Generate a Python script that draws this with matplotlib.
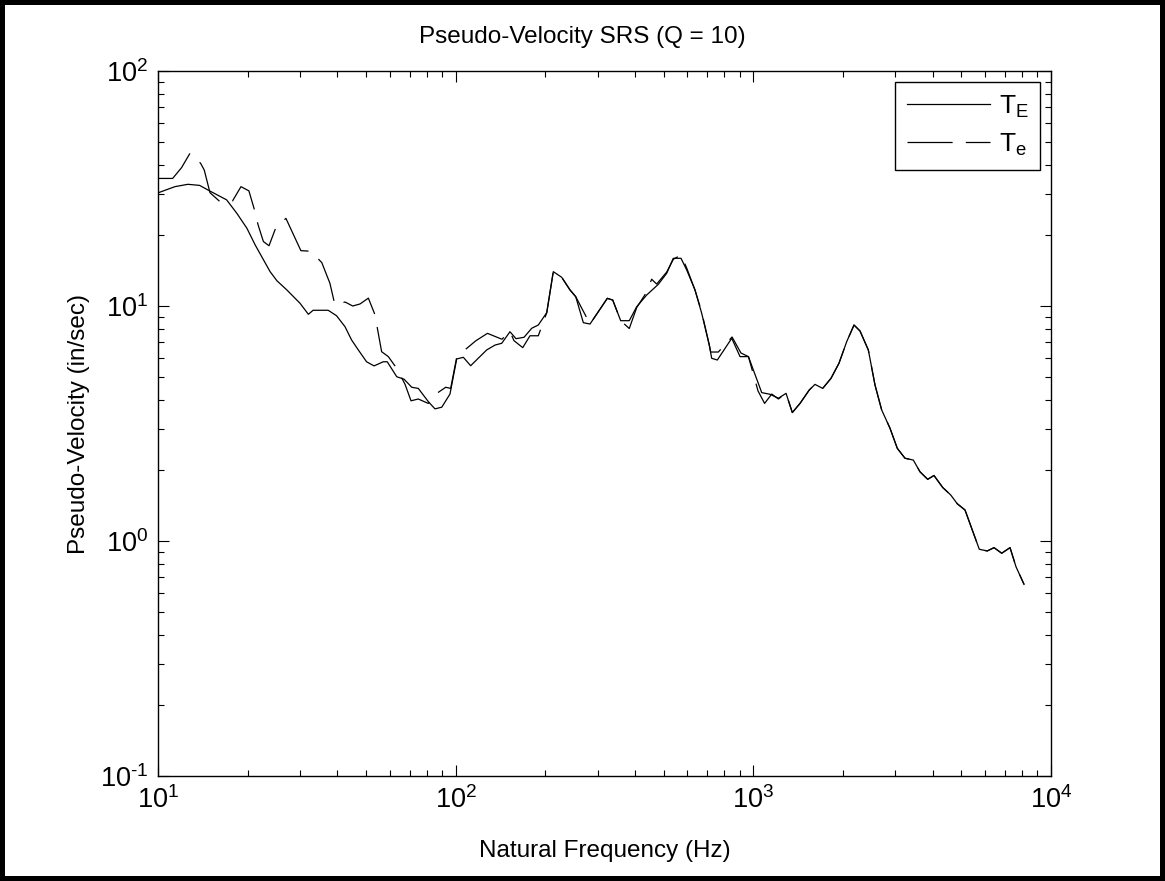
import matplotlib
matplotlib.use("Agg")
import numpy as np
import matplotlib.pyplot as plt
from matplotlib.patches import Rectangle
from matplotlib.ticker import FuncFormatter

# Pseudo-velocity shock response spectra, Q = 10
freq_E = [10.0, 11.4, 12.6, 13.8, 14.9, 17.0, 18.4, 19.9, 21.2, 23.8,
          25.1, 27.1, 30.0, 32.0, 33.2, 37.3, 39.8, 42.5, 44.7, 47.1,
          50.2, 53.2, 57.1, 58.9, 63.4, 67.1, 71.2, 74.9, 80.9, 85.2,
          89.8, 95.7, 100.8, 106.1, 112.3, 127.1, 135.6, 142.8, 152.2, 159.5,
          169.7, 180.1, 189.5, 202.3, 212.8, 227.1, 242.2, 253.1, 268.5, 282.7,
          323.2, 337.0, 358.4, 383.0, 405.7, 438.3, 479.6, 511.7, 538.4, 571.5,
          597.3, 636.8, 670.7, 711.3, 724.6, 756.8, 846.3, 902.2, 962.8, 1067,
          1138, 1214, 1288, 1352, 1435, 1541, 1611, 1710, 1823, 1940,
          2059, 2179, 2282, 2434, 2563, 2699, 2878, 3045, 3232, 3447,
          3630, 3853, 4045, 4326, 4603, 4844, 5142, 5743, 6109, 6435,
          6830, 7284, 7628, 8117]
vel_E = [30.3, 32.2, 32.95, 32.6, 30.9, 28.3, 24.8, 21.4, 18.2, 14.0,
         12.8, 11.7, 10.27, 9.22, 9.59, 9.59, 9.09, 8.16, 7.17, 6.50,
         5.79, 5.56, 5.79, 5.79, 5.00, 4.88, 4.51, 4.46, 3.92, 3.65,
         3.71, 4.22, 5.95, 6.05, 5.57, 6.50, 6.82, 6.94, 7.77, 7.26,
         7.36, 8.04, 8.30, 9.37, 14.0, 13.25, 11.7, 10.96, 8.49, 8.38,
         10.78, 10.6, 8.66, 8.66, 9.93, 11.14, 12.37, 13.78, 15.96, 15.96,
         14.23, 11.7, 9.31, 6.82, 5.99, 5.89, 7.29, 6.09, 6.09, 4.28,
         4.21, 4.05, 4.25, 3.52, 3.85, 4.39, 4.64, 4.46, 4.92, 5.71,
         7.05, 8.30, 7.83, 6.50, 4.61, 3.61, 3.02, 2.48, 2.25, 2.21,
         1.97, 1.83, 1.90, 1.69, 1.57, 1.44, 1.355, 0.922, 0.907, 0.937,
         0.887, 0.937, 0.777, 0.654]

freq_e = [10.0, 11.2, 12.0, 12.8, 13.9, 14.3, 14.95, 16.2, 17.8, 19.0,
          20.2, 21.1, 21.7, 22.6, 23.6, 24.9, 26.9, 30.2, 32.6, 35.5,
          37.8, 39.3, 42.5, 45.1, 47.7, 50.9, 53.6, 54.7, 56.4, 59.4,
          63.7, 67.6, 70.8, 74.9, 80.9, 84.1, 92.6, 96.2, 100.8, 105.6,
          117.0, 127.9, 143.0, 152.2, 157.0, 168.0, 177.7, 189.5, 202.3, 212.8,
          227.1, 242.2, 253.1, 282.7, 323.2, 337.0, 358.4, 383.0, 405.7, 438.3,
          455.4, 473.4, 511.7, 538.4, 571.5, 597.3, 636.8, 670.7, 711.3, 719.0,
          762.6, 848.3, 908.6, 962.8, 1037, 1091, 1153, 1214, 1288,
          1352, 1435, 1541, 1611, 1710, 1823, 1940, 2059, 2179, 2282,
          2434, 2563, 2699, 2878, 3045, 3232, 3447, 3630, 3853, 4045,
          4326, 4603, 4844, 5142, 5743, 6109, 6435, 6830, 7284, 7628, 8117]
vel_e = [34.9, 34.9, 38.8, 44.6, 40.5, 37.9, 30.35, 27.7, 28.0, 32.2,
         30.9, 25.6, 22.1, 18.8, 18.05, 21.6, 23.6, 17.2, 17.1, 15.3,
         12.5, 10.1, 10.4, 10.0, 10.2, 10.8, 9.16, 7.91, 6.39, 6.09,
         5.38, 4.64, 3.95, 4.02, 3.85, 4.15, 4.51, 4.46, 6.05, 6.39,
         7.12, 7.65, 7.22, 7.79, 7.12, 6.65, 7.47, 7.47, 9.37, 14.0,
         13.25, 11.7, 10.96, 8.38, 10.78, 10.6, 8.66, 8.02, 9.85, 11.47,
         13.0, 12.4, 13.95, 15.8, 16.5, 14.5, 11.7, 9.43, 6.82, 6.37,
         6.37, 7.38, 6.31, 6.09, 4.35, 3.85, 4.22, 4.02, 4.25,
         3.52, 3.85, 4.39, 4.64, 4.46, 4.92, 5.71, 7.05, 8.30, 7.83,
         6.50, 4.61, 3.61, 3.02, 2.48, 2.25, 2.21, 1.97, 1.83, 1.90,
         1.69, 1.57, 1.44, 1.355, 0.922, 0.907, 0.937, 0.887, 0.937, 0.777, 0.654]

series_labels = [r"$\mathregular{T_E}$", r"$\mathregular{T_e}$"]

plt.rcParams["font.family"] = ["Liberation Sans", "DejaVu Sans"]
plt.rcParams["mathtext.fontset"] = "custom"
plt.rcParams["mathtext.rm"] = "Liberation Sans"
plt.rcParams["mathtext.it"] = "Liberation Sans:italic"
plt.rcParams["lines.scale_dashes"] = False

FS = 17.5
W, H = 1165, 881

fig = plt.figure(figsize=(W / 100, H / 100), dpi=100)
ax = fig.add_axes([158 / W, 105 / H, 893 / W, 705 / H])

ax.plot(freq_E, vel_E, color="black", lw=0.9, label=series_labels[0])
ax.plot(freq_e, vel_e, color="black", lw=0.9, dashes=(32.5, 9.5),
        label=series_labels[1])

ax.set_xscale("log")
ax.set_yscale("log")
ax.set_xlim(10, 1e4)
ax.set_ylim(0.1, 100)


def decade_label(val, pos):
    exp = int(round(np.log10(val)))
    txt = str(exp).replace("-", "\N{HYPHEN}")
    return r"$\mathregular{10^{%s}}$" % txt


ax.xaxis.set_major_formatter(FuncFormatter(decade_label))
ax.yaxis.set_major_formatter(FuncFormatter(decade_label))

ax.tick_params(which="both", direction="in", top=True, right=True,
               labelsize=19.5, width=0.8)
ax.tick_params(which="major", length=8)
ax.tick_params(which="minor", length=4.3)
ax.tick_params(axis="x", which="major", pad=7)
ax.tick_params(axis="y", which="major", pad=7)
for sp in ax.spines.values():
    sp.set_linewidth(1.0)

fig.text(0.5, 1 - 37 / H, "Pseudo-Velocity SRS (Q = 10)", fontsize=FS,
         ha="center", va="center")
ax.set_xlabel("Natural Frequency (Hz)", fontsize=FS, labelpad=19)
ax.set_ylabel("Pseudo-Velocity (in/sec)", fontsize=FS, labelpad=7)

leg = ax.legend(loc="upper right", fontsize=19, frameon=True, fancybox=False,
                edgecolor="black", framealpha=1, borderaxespad=0.4,
                handlelength=3.15, handletextpad=0.34, borderpad=0.45,
                labelspacing=0.45)
leg.get_frame().set_linewidth(1.0)

# heavy outer frame around the whole figure
fig.patches.append(Rectangle((0, 0), 1, 1, transform=fig.transFigure,
                             fill=False, edgecolor="black", linewidth=7.2))

fig.savefig("out.png", dpi=100)
